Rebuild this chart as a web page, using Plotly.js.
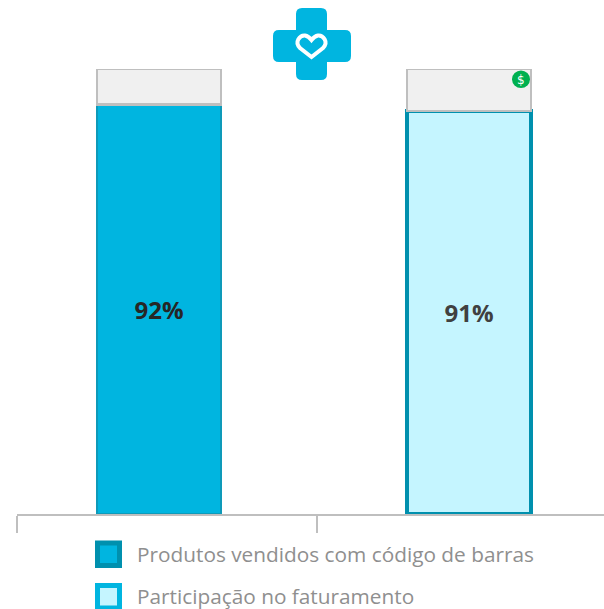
<!DOCTYPE html>
<html><head><meta charset="utf-8">
<script src="https://cdn.plot.ly/plotly-3.0.1.min.js"></script>
<style>html,body{margin:0;padding:0;background:#fff;overflow:hidden}</style></head>
<body><div id="chart" style="width:604px;height:609px"></div>
<script>
const seriesNames = ['Produtos vendidos com código de barras', 'Participação no faturamento'];
const positions = [0, 1];
const soldValue = [92];
const revenueValue = [90.6];
const soldLabel = ['92%'];
const revenueLabel = ['91%'];
const remainder = [8, 9.4];

const W = 604, H = 609, L = 17, R = 0, T = 69, B = 95;
const pw = W - L - R, ph = H - T - B;
const px = x => (x - L) / pw;
const py = y => (T + ph - y) / ph;
const P = (x, y) => px(x).toFixed(5) + ',' + py(y).toFixed(5);

function rrect(x0, y0, x1, y1, fill, line, lw) {
  return {type:'rect', xref:'paper', yref:'paper', x0:px(x0), x1:px(x1), y0:py(y0), y1:py(y1),
    fillcolor:fill, line:{color:line, width:lw}, layer:'above'};
}
const cross = 'M'+P(302,8)+' L'+P(321,8)+' Q'+P(327,8)+' '+P(327,14)+' L'+P(327,30)+' L'+P(345,30)+' Q'+P(351,30)+' '+P(351,36)
  +' L'+P(351,56)+' Q'+P(351,62)+' '+P(345,62)+' L'+P(327,62)+' L'+P(327,74)+' Q'+P(327,80)+' '+P(321,80)+' L'+P(302,80)
  +' Q'+P(296,80)+' '+P(296,74)+' L'+P(296,62)+' L'+P(279,62)+' Q'+P(273,62)+' '+P(273,56)+' L'+P(273,36)+' Q'+P(273,30)+' '+P(279,30)
  +' L'+P(296,30)+' L'+P(296,14)+' Q'+P(296,8)+' '+P(302,8)+' Z';
const heart = 'M'+P(311.5,57)+' L'+P(300,48)+' C'+P(294,42)+' '+P(300,35)+' '+P(305,35.5)+' C'+P(308,36)+' '+P(310,38)+' '+P(311.5,40)
  +' C'+P(313,38)+' '+P(315,36)+' '+P(318,35.5)+' C'+P(323,35)+' '+P(329,42)+' '+P(323,48)+' Z';

const shapes = [
  {type:'path', xref:'paper', yref:'paper', path:cross, fillcolor:'#00b5e0', line:{width:0}, layer:'above'},
  {type:'path', xref:'paper', yref:'paper', path:heart, fillcolor:'rgba(0,0,0,0)', line:{color:'#ffffff', width:4}, layer:'above'},
  {type:'circle', xref:'paper', yref:'paper', x0:px(512), x1:px(530), y0:py(70.5), y1:py(88), fillcolor:'#00b050', line:{width:0}, layer:'above'},
  rrect(97.5, 543, 119.5, 565.5, '#00b5e0', '#0090ae', 5),
  rrect(97.5, 585.5, 119.5, 608, '#c5f5ff', '#00b5e0', 5)
];

const legendFont = {family:'Open Sans, sans-serif', size:20.8, color:'#8f8f8f'};
const annotations = [
  {xref:'paper', yref:'paper', x:px(135), y:py(554), xanchor:'left', yanchor:'middle', text:seriesNames[0], showarrow:false, font:legendFont},
  {xref:'paper', yref:'paper', x:px(135), y:py(596), xanchor:'left', yanchor:'middle', text:seriesNames[1], showarrow:false, font:legendFont},
  {xref:'paper', yref:'paper', x:px(521), y:py(79.5), xanchor:'center', yanchor:'middle', text:'$', showarrow:false, font:{family:'DejaVu Sans', size:12, color:'#ffffff'}}
];

const labelFont = {family:'Open Sans, sans-serif', size:24, color:'#262626', weight:700};
const traces = [
  {type:'bar', name:seriesNames[0], x:[positions[0]], y:soldValue, text:soldLabel, textposition:'inside', insidetextanchor:'middle', textangle:0,
   insidetextfont:labelFont, marker:{color:'#00b5e0', line:{color:'#0e9ab9', width:1.5}}, cliponaxis:false, hoverinfo:'skip'},
  {type:'bar', name:seriesNames[1], x:[positions[1]], y:revenueValue, text:revenueLabel, textposition:'inside', insidetextanchor:'middle', textangle:0,
   insidetextfont:Object.assign({}, labelFont, {color:'#404040'}), marker:{color:'#c5f5ff', line:{color:'#0090ae', width:3.5}}, cliponaxis:false, hoverinfo:'skip'},
  {type:'bar', name:'Restante', x:positions, y:remainder, marker:{color:'#f0f0f0', line:{color:'#bfbfbf', width:2.5}}, cliponaxis:false, hoverinfo:'skip'}
];

const layout = {
  width:W, height:H, margin:{l:L, r:R, t:T, b:B, pad:0},
  paper_bgcolor:'#fff', plot_bgcolor:'#fff', showlegend:false,
  barmode:'stack', bargap:0,
  xaxis:{range:[-0.4581, 1.4355], showgrid:false, zeroline:false, showline:true, linecolor:'#bfbfbf', linewidth:2,
         tickmode:'array', tickvals:[-0.4581, 0.5097], ticktext:['',''], ticks:'outside', ticklen:17, tickwidth:2, tickcolor:'#bfbfbf', fixedrange:true},
  yaxis:{range:[0,100], visible:false, fixedrange:true},
  shapes, annotations
};
traces.forEach(t => t.width = 0.4);
Plotly.newPlot('chart', traces, layout, {displayModeBar:false, staticPlot:true});
</script></body></html>
